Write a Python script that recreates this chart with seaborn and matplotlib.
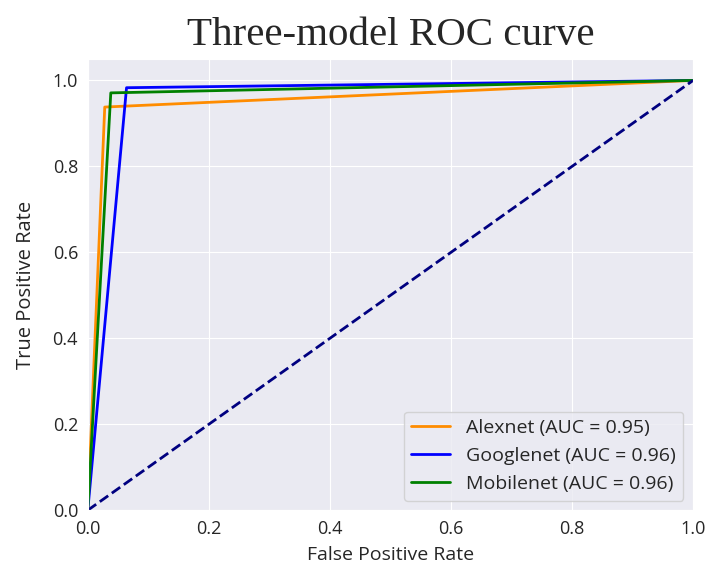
import numpy as np
import pandas as pd
import matplotlib
matplotlib.use("Agg")
import matplotlib.pyplot as plt
import seaborn as sns

# ROC points
fpr_alex = [0.0, 0.028, 1.0]
tpr_alex = [0.0, 0.938, 1.0]
fpr_google = [0.0, 0.064, 1.0]
tpr_google = [0.0, 0.983, 1.0]
fpr_mobile = [0.0, 0.038, 1.0]
tpr_mobile = [0.0, 0.971, 1.0]
auc_vals = [0.95, 0.96, 0.96]
model_names = ["Alexnet", "Googlenet", "Mobilenet"]
line_colors = ["darkorange", "blue", "green"]

sns.set_style("darkgrid")
plt.rcParams['font.family'] = ['Open Sans', 'DejaVu Sans']

fig, ax = plt.subplots(figsize=(7.08, 5.72), dpi=100)

curves = [(fpr_alex, tpr_alex), (fpr_google, tpr_google), (fpr_mobile, tpr_mobile)]
for (fpr, tpr), name, auc, col in zip(curves, model_names, auc_vals, line_colors):
    df = pd.DataFrame({"fpr": fpr, "tpr": tpr})
    sns.lineplot(data=df, x="fpr", y="tpr", ax=ax, color=col, lw=2,
                 label=f"{name} (AUC = {auc:.2f})", sort=False, estimator=None)

ax.plot([0, 1], [0, 1], color="navy", lw=2, linestyle="--")
ax.set_xlim(0.0, 1.0)
ax.set_ylim(0.0, 1.05)
ax.tick_params(labelsize=13)
ax.set_xlabel("False Positive Rate", fontsize=14, labelpad=6)
ax.set_ylabel("True Positive Rate", fontsize=14.5, labelpad=12)
ax.set_title("Three-model ROC curve", fontsize=29.5, family="Liberation Serif", pad=10)
ax.legend(loc="lower right", fontsize=14)

fig.subplots_adjust(left=0.124, right=0.979, top=0.897, bottom=0.108)
fig.savefig("out.png", dpi=100)
